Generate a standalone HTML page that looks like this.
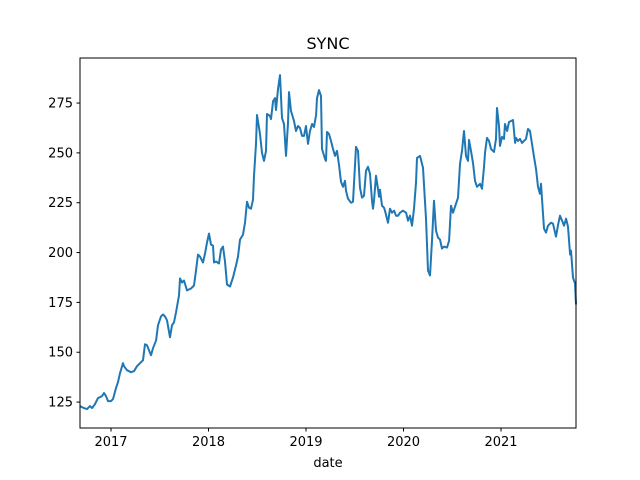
<!DOCTYPE html>
<html><head><meta charset="utf-8"><style>
html,body{margin:0;padding:0;background:#fff;}
svg{display:block;font-family:"DejaVu Sans","Liberation Sans",sans-serif;}
</style></head><body>
<svg id="chart" width="640" height="480">
<rect width="640" height="480" fill="#fff"/>
<text x="328" y="49" text-anchor="middle" font-size="16">SYNC</text>
<g id="plot"></g>
<rect x="80" y="58" width="496" height="370" fill="none" stroke="#000" stroke-width="1"/>
<text x="328" y="467" text-anchor="middle" font-size="13">date</text>
</svg>
<script>
const dates=[2016.682,2016.723,2016.754,2016.785,2016.805,2016.836,2016.867,2016.908,2016.928,2016.949,2016.969,2017.000,2017.020,2017.051,2017.072,2017.092,2017.123,2017.133,2017.164,2017.205,2017.236,2017.267,2017.297,2017.328,2017.349,2017.369,2017.410,2017.431,2017.462,2017.482,2017.513,2017.533,2017.554,2017.574,2017.605,2017.626,2017.646,2017.667,2017.697,2017.708,2017.728,2017.749,2017.779,2017.820,2017.851,2017.872,2017.892,2017.913,2017.944,2017.964,2017.985,2018.005,2018.026,2018.046,2018.056,2018.077,2018.108,2018.128,2018.149,2018.169,2018.190,2018.220,2018.251,2018.282,2018.302,2018.323,2018.354,2018.374,2018.395,2018.415,2018.436,2018.456,2018.467,2018.487,2018.497,2018.528,2018.549,2018.569,2018.590,2018.600,2018.631,2018.641,2018.662,2018.682,2018.692,2018.713,2018.733,2018.754,2018.774,2018.795,2018.815,2018.826,2018.846,2018.877,2018.897,2018.918,2018.938,2018.959,2018.979,2019.000,2019.020,2019.041,2019.062,2019.082,2019.103,2019.113,2019.133,2019.154,2019.164,2019.195,2019.205,2019.215,2019.236,2019.256,2019.277,2019.297,2019.318,2019.338,2019.359,2019.379,2019.400,2019.410,2019.431,2019.461,2019.482,2019.513,2019.533,2019.554,2019.574,2019.595,2019.615,2019.636,2019.656,2019.677,2019.687,2019.697,2019.718,2019.738,2019.749,2019.759,2019.779,2019.800,2019.810,2019.831,2019.841,2019.861,2019.882,2019.903,2019.923,2019.944,2019.964,2019.995,2020.026,2020.046,2020.067,2020.087,2020.108,2020.128,2020.138,2020.169,2020.200,2020.231,2020.251,2020.272,2020.292,2020.313,2020.333,2020.354,2020.374,2020.395,2020.415,2020.446,2020.467,2020.487,2020.508,2020.538,2020.559,2020.579,2020.600,2020.620,2020.641,2020.661,2020.672,2020.692,2020.713,2020.733,2020.754,2020.785,2020.805,2020.826,2020.836,2020.856,2020.877,2020.897,2020.928,2020.949,2020.959,2020.979,2020.990,2021.010,2021.031,2021.041,2021.062,2021.082,2021.103,2021.123,2021.144,2021.154,2021.174,2021.195,2021.215,2021.236,2021.256,2021.277,2021.297,2021.318,2021.338,2021.359,2021.379,2021.400,2021.410,2021.431,2021.441,2021.461,2021.482,2021.513,2021.533,2021.564,2021.585,2021.605,2021.626,2021.646,2021.667,2021.687,2021.708,2021.718,2021.738,2021.759,2021.769];
const values=[123,122,121.5,123,122,124,127,128,129.5,128,125.5,125.5,126.5,132,135,139.5,144.5,143,141,140,140.5,143,144.5,146,154,153.5,148.5,152,156,163.5,168,169,168,166,157.5,163.5,165,170,178.5,187,185,186,181,182,183.5,191,199,198,195,199.5,205,209.5,204,203.5,195,195.5,194.5,201.5,203,195.5,184,183,187.5,193.5,198,206.5,209,215,225.5,222.5,222,226.5,238.5,254.5,269,259.5,250,246,251,269.5,268.5,267,276,277.5,271.5,282,289,267.5,264.5,248.5,265,280.5,271,266,261,263.5,262.5,258.5,258.5,263.5,254.5,261,264.5,263,269,277.5,281.5,278.5,252,247,246,260.5,259.5,256,252,248.5,251,244,235.5,233,236,231,227,225,225.5,253,251,232.5,227.5,228.5,241,243,239.5,226,222,226,238.5,232,228,231.5,223.5,222.5,221,217,215,222,220,221,218.5,218.5,220,221,220,216,218.5,213.5,222,235,247.5,248.5,242.5,217,191,188.5,206,226,211,207.5,206.5,202,203,202.5,206,223.5,220,224.5,227.5,244.5,251,261,248.5,246,256.5,251,245,236,233,234.5,232,243.5,250,257.5,256,252,250.5,257,272.5,263.5,253.5,258,257,264.5,261,265.5,266,266.5,255,257.5,256,257,255,256,257,262,261,254.5,248,242,233,229.5,234.5,219.5,212,210,213.5,215,214.5,208,214,218.5,216,213.5,217,213,199,201,187.5,184.5,174];
const yTicks=[125,150,175,200,225,250,275];
const xTicks=[2017,2018,2019,2020,2021];
const X0=80,X1=576,Y0=428,Y1=58;
const xMin=2016.682,xMax=2021.769,yMin=112.0,yMax=297.6;
const sx=v=>X0+(v-xMin)/(xMax-xMin)*(X1-X0);
const sy=v=>Y0-(v-yMin)/(yMax-yMin)*(Y0-Y1);
const NS='http://www.w3.org/2000/svg';
const g=document.getElementById('plot');
function mk(t,a){const e=document.createElementNS(NS,t);for(const k in a)e.setAttribute(k,a[k]);g.appendChild(e);return e;}
yTicks.forEach(v=>{
  const y=sy(v);
  const t=mk('line',{x1:X0-3.5,x2:X0,y1:y,y2:y,stroke:'#000'});
  
  
  const l=mk('text',{x:X0-7,y:y+4.5,'text-anchor':'end','font-size':13});
  l.textContent=v;
  
  
});
xTicks.forEach(v=>{
  const x=sx(v);
  const t=mk('line',{x1:x,x2:x,y1:Y0,y2:Y0+3.5,stroke:'#000'});
  
  
  const l=mk('text',{x:x,y:Y0+18,'text-anchor':'middle','font-size':13});
  l.textContent=v;
  
  
});
const d=dates.map((t,i)=>(i?'L':'M')+sx(t).toFixed(1)+','+sy(values[i]).toFixed(1)).join('');
const p=mk('path',{d:d,fill:'none',stroke:'#1f77b4','stroke-width':2,'stroke-linejoin':'round'});


</script>
</body></html>
